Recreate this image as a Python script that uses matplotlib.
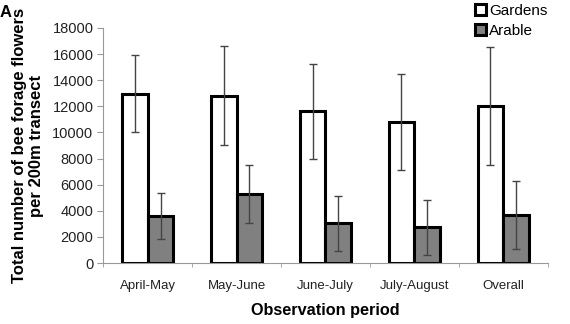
import matplotlib
matplotlib.use("Agg")
import matplotlib.pyplot as plt
import numpy as np

plt.rcParams['font.family'] = ['Liberation Sans', 'DejaVu Sans']

periods = ["April-May", "May-June", "June-July", "July-August", "Overall"]
gardens = [12950, 12800, 11600, 10800, 12000]
gardens_err = [2950, 3800, 3650, 3700, 4500]
arable = [3600, 5300, 3050, 2750, 3650]
arable_err = [1750, 2200, 2100, 2100, 2600]

fig = plt.figure(figsize=(5.7, 3.24), dpi=100)
ax = fig.add_axes([0.181, 0.188, 0.780, 0.726])

x = np.arange(len(periods))
w = 0.29
err_kw = dict(ecolor='#444444', elinewidth=1.0, capsize=3, capthick=1.0)
ax.bar(x - w / 2, gardens, w, yerr=gardens_err, color='white', edgecolor='black',
       linewidth=2.2, label='Gardens', error_kw=err_kw)
ax.bar(x + w / 2, arable, w, yerr=arable_err, color='#808080', edgecolor='black',
       linewidth=2.2, label='Arable', error_kw=err_kw)

ax.set_xlim(-0.5, len(periods) - 0.5)
ax.set_ylim(0, 18000)
ax.set_yticks(np.arange(0, 18001, 2000))
ax.set_xticks(x)
ax.set_xticklabels(periods, fontsize=9.5, color='#222222')
ax.set_xticks(np.arange(-0.5, len(periods)), minor=True)
ax.tick_params(axis='x', which='major', length=0, pad=12)
ax.tick_params(axis='x', which='minor', length=3, color='#999999')
ax.tick_params(axis='y', labelsize=10.5, length=4, color='#999999', pad=3, labelcolor='#222222')

for s in ['top', 'right']:
    ax.spines[s].set_visible(False)
for s in ['left', 'bottom']:
    ax.spines[s].set_color('#999999')

ax.set_ylabel("Total number of bee forage flowers\nper 200m transect", fontsize=12,
              fontweight='bold', labelpad=6)
ax.set_xlabel("Observation period", fontsize=11.7, fontweight='bold', labelpad=8)

ax.legend(loc='upper right', bbox_to_anchor=(1.03, 1.16), frameon=False, fontsize=11,
          handlelength=0.7, handleheight=0.7, handletextpad=0.2, labelspacing=0.4)

fig.text(0.0, 0.985, "A", fontsize=12, fontweight='bold', va='top', ha='left')

fig.savefig("out.png", dpi=100)
